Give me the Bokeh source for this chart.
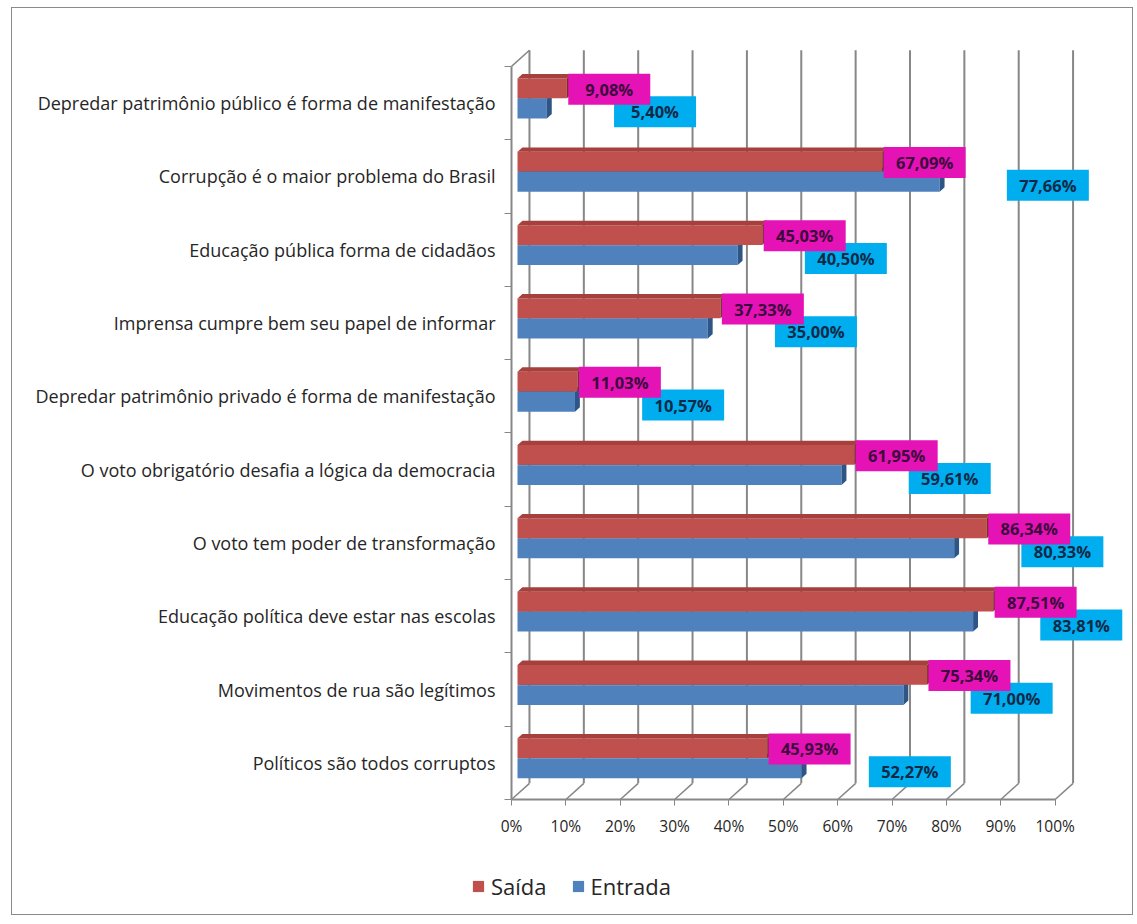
from bokeh.plotting import figure
from bokeh.models import Range1d, FixedTicker, Legend, LegendItem
from bokeh.core.properties import value
from bokeh.embed import file_html
from bokeh.resources import INLINE

# ---------------- data (top to bottom as shown) ----------------
categories = [
    "Depredar patrimônio público é forma de manifestação",
    "Corrupção é o maior problema do Brasil",
    "Educação pública forma de cidadãos",
    "Imprensa cumpre bem seu papel de informar",
    "Depredar patrimônio privado é forma de manifestação",
    "O voto obrigatório desafia a lógica da democracia",
    "O voto tem poder de transformação",
    "Educação política deve estar nas escolas",
    "Movimentos de rua são legítimos",
    "Políticos são todos corruptos",
]
saida = [9.08, 67.09, 45.03, 37.33, 11.03, 61.95, 86.34, 87.51, 75.34, 45.93]
entrada = [5.40, 77.66, 40.50, 35.00, 10.57, 59.61, 80.33, 83.81, 71.00, 52.27]
series_names = ["Saída", "Entrada"]
x_ticks = [0, 10, 20, 30, 40, 50, 60, 70, 80, 90, 100]
x_tick_labels = ["0%", "10%", "20%", "30%", "40%", "50%", "60%", "70%", "80%", "90%", "100%"]

# ---------------- styling constants ----------------
RED, RED_TOP, RED_SIDE = "#C0504D", "#A5403D", "#7E2C2A"
BLUE, BLUE_TOP, BLUE_SIDE = "#4F81BD", "#416EA6", "#2D5585"
MAGENTA, CYAN = "#E512B5", "#00AEEF"
GRID = "#878787"
TXT = "#262626"
FONT = "Open Sans"

WALL_DX, WALL_DY = 3.3, 0.22      # depth of the 3D walls (data units)
BAR_DX, BAR_DY = 0.9, 0.06        # depth of the 3D bars
BAR_X0 = 1.1                      # bars sit slightly behind the front plane
RED_LO, RED_HI = 0.565, 0.835
BLUE_LO, BLUE_HI = 0.29, 0.56

n = len(categories)
base = [n - 1 - i for i in range(n)]

# the frame covers the whole canvas; axes are pinned at the data origin
p = figure(width=1122, height=908,
           x_range=Range1d(-91.8, 114.6), y_range=Range1d(-1.596, 10.79),
           output_backend="svg", toolbar_location=None,
           min_border_left=0, min_border_right=0, min_border_top=0, min_border_bottom=0)
p.outline_line_color = None
p.xgrid.visible = False
p.ygrid.visible = False
p.background_fill_color = "white"
p.border_fill_color = "white"
p.styles = {"border": "1px solid #8a8a8a", "margin-left": "11px", "margin-top": "7px"}

# ---------------- 3D walls ----------------
back_x = [t + WALL_DX for t in x_ticks]
p.segment(x0=back_x, y0=[WALL_DY] * len(x_ticks), x1=back_x, y1=[n + WALL_DY] * len(x_ticks),
          line_color=GRID, line_width=2)
p.segment(x0=x_ticks, y0=[0] * len(x_ticks), x1=back_x, y1=[WALL_DY] * len(x_ticks),
          line_color=GRID, line_width=1.5)
p.segment(x0=[0], y0=[n], x1=[WALL_DX], y1=[n + WALL_DY], line_color=GRID, line_width=1.5)

# ---------------- bars ----------------
def draw_bars(vals, lo, hi, front, top, side):
    xs_top, ys_top, xs_side, ys_side = [], [], [], []
    for b, v in zip(base, vals):
        x0, x1 = BAR_X0, v + BAR_X0
        y0, y1 = b + lo, b + hi
        xs_top.append([x0, x1, x1 + BAR_DX, x0 + BAR_DX])
        ys_top.append([y1, y1, y1 + BAR_DY, y1 + BAR_DY])
        xs_side.append([x1, x1, x1 + BAR_DX, x1 + BAR_DX])
        ys_side.append([y0, y1, y1 + BAR_DY, y0 + BAR_DY])
    r = p.hbar(y=[b + (lo + hi) / 2 for b in base], height=hi - lo,
               left=BAR_X0, right=[v + BAR_X0 for v in vals],
               fill_color=front, line_color=None)
    p.patches(xs_top, ys_top, fill_color=top, line_color=None)
    p.patches(xs_side, ys_side, fill_color=side, line_color=None)
    return r

r_blue = draw_bars(entrada, BLUE_LO, BLUE_HI, BLUE, BLUE_TOP, BLUE_SIDE)
r_red = draw_bars(saida, RED_LO, RED_HI, RED, RED_TOP, RED_SIDE)

# ---------------- data labels ----------------
def fmt(v):
    return f"{v:.2f}".replace(".", ",") + "%"

def draw_labels(vals, dx, yoff, fill, color):
    xs = [v + dx for v in vals]
    ys = [b + yoff for b in base]
    p.rect(x=xs, y=ys, width=82, height=31, width_units="screen", height_units="screen",
           fill_color=fill, line_color=None)
    p.text(x=xs, y=ys, text=[fmt(v) for v in vals], text_align="center",
           text_baseline="middle", text_font=value(FONT), text_font_style="bold",
           text_font_size="16.5px", text_color=color)

draw_labels(entrada, 21, 0.38, CYAN, "#0f2a48")
draw_labels(saida, 8.9, 0.69, MAGENTA, "#3c0a3c")

# ---------------- axes ----------------
xa = p.xaxis[0]
xa.fixed_location = 0
xa.ticker = FixedTicker(ticks=x_ticks, minor_ticks=[])
xa.major_label_overrides = {t: l for t, l in zip(x_ticks, x_tick_labels)}
xa.bounds = (0, 100)
xa.axis_line_color = GRID
xa.axis_line_width = 2
xa.major_tick_line_color = GRID
xa.major_tick_out = 6
xa.major_tick_in = 0
xa.major_label_standoff = 10
xa.major_label_text_font = FONT
xa.major_label_text_font_size = "15.5px"
xa.major_label_text_color = TXT

ya = p.yaxis[0]
ya.fixed_location = 0
centers = [b + 0.5 for b in base]
ya.ticker = FixedTicker(ticks=centers, minor_ticks=list(range(n + 1)))
ya.major_label_overrides = {c: cat for c, cat in zip(centers, categories)}
ya.bounds = (0, n)
ya.axis_line_color = GRID
ya.axis_line_width = 2
ya.major_tick_out = 0
ya.major_tick_in = 0
ya.minor_tick_line_color = GRID
ya.minor_tick_out = 7
ya.minor_tick_in = 0
ya.major_label_standoff = 9
ya.major_label_text_font = FONT
ya.major_label_text_font_size = "18px"
ya.major_label_text_color = TXT

# ---------------- legend ----------------
legend = Legend(items=[LegendItem(label=series_names[0], renderers=[r_red]),
                       LegendItem(label=series_names[1], renderers=[r_blue])],
                orientation="horizontal", location=(459, 15),
                glyph_width=14, glyph_height=14, label_standoff=6, spacing=24,
                label_text_font=FONT, label_text_font_size="22px", label_text_color=TXT,
                border_line_color=None, background_fill_alpha=0, padding=5, margin=0)
p.add_layout(legend, "center")

open("out.html", "w").write(file_html(p, INLINE))
